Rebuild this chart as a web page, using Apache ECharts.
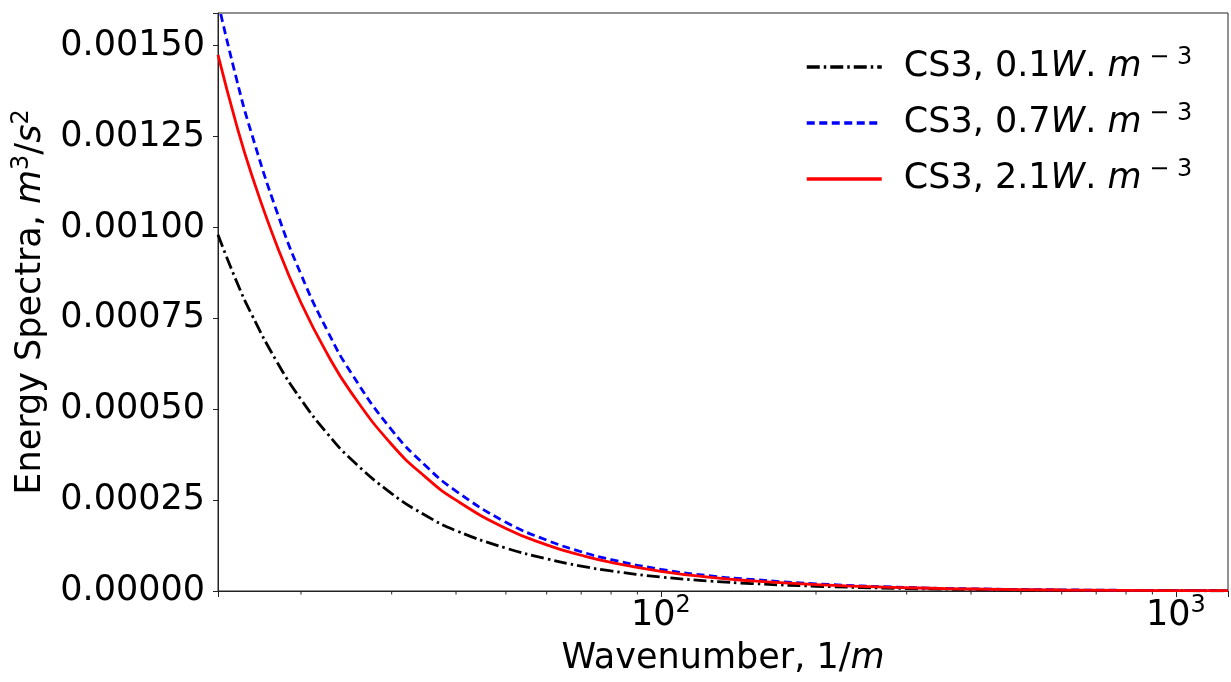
<!DOCTYPE html>
<html>
<head>
<meta charset="utf-8">
<script src="https://cdn.jsdelivr.net/npm/echarts@6/dist/echarts.min.js"></script>
<style>
  html, body { margin: 0; padding: 0; background: #fff; }
  #chart { width: 1231px; height: 682px; }
</style>
</head>
<body>
<div id="chart"></div>
<script>
// wavenumber samples (1/m)
var wavenumbers = [13.8, 15, 16, 18, 20, 22.5, 25, 30, 35, 40, 50, 60, 70, 80, 100, 125, 150, 200, 300, 400, 600, 1000, 1262];

// energy spectra, m^3/s^2
var spec01 = [0.00098, 0.000851, 0.000764, 0.000628, 0.000527, 0.000433, 0.000363, 0.000268, 0.000207, 0.000166, 0.000118, 0.0000885, 0.0000685, 0.0000552, 0.0000385, 0.0000272, 0.0000205, 0.0000131, 0.0000068, 0.0000042, 0.0000020, 0.0000009, 0.0000006];
var spec07 = [0.00162, 0.001407, 0.001263, 0.001039, 0.000871, 0.000716, 0.000601, 0.000443, 0.000343, 0.000275, 0.000189, 0.00014, 0.000108, 0.0000864, 0.0000597, 0.0000415, 0.0000318, 0.0000198, 0.0000098, 0.0000061, 0.0000031, 0.0000013, 0.0000009];
var spec21 = [0.001475, 0.001281, 0.00115, 0.000946, 0.000793, 0.000652, 0.000547, 0.000403, 0.000312, 0.00025, 0.000172, 0.000127, 0.0000983, 0.0000786, 0.0000543, 0.0000374, 0.0000278, 0.0000174, 0.0000089, 0.0000055, 0.0000028, 0.0000012, 0.0000008];

var seriesNames = ['0.1', '0.7', '2.1'];
var minorTicks = [20, 30, 40, 50, 60, 70, 80, 90, 200, 300, 400, 500, 600, 700, 800, 900];

var FONT = 'DejaVu Sans';
var FS = 35;

function pairs(xs, ys) {
    var out = [];
    for (var i = 0; i < xs.length; i++) {
        out.push([xs[i], ys[i]]);
    }
    return out;
}

var richText = {
    it: { fontFamily: FONT, fontStyle: 'italic', fontSize: FS, color: '#000', lineHeight: 42 },
    sup: { fontFamily: FONT, fontSize: 24, color: '#000', verticalAlign: 'top', lineHeight: 42 },
    n: { fontFamily: FONT, fontSize: FS, color: '#000', lineHeight: 42 }
};

// 10^n tick labels: tall line box so the exponent sits above the digits
var richTick = {
    n: { fontFamily: FONT, fontSize: FS, color: '#000', lineHeight: 44 },
    sup: { fontFamily: FONT, fontSize: 24, color: '#000', verticalAlign: 'top', lineHeight: 24 }
};

var myChart = echarts.init(document.getElementById('chart'));

var option = {
    animation: false,
    backgroundColor: '#fff',
    grid: {
        left: 218,
        right: 3,
        top: 13,
        bottom: 91,
        show: true,
        borderColor: '#222',
        borderWidth: 1,
        backgroundColor: 'transparent'
    },
    legend: {
        orient: 'vertical',
        left: 800,
        top: 41,
        itemWidth: 75,
        itemHeight: 14,
        itemGap: 17.5,
        itemStyle: { opacity: 0 },
        lineStyle: { width: 3.5 },
        data: seriesNames.map(function (s) { return 'CS3, ' + s; }),
        formatter: function (name) {
            return '{n|' + name + '}{it|W}{n|.}{it| m}{sup| − 3}';
        },
        textStyle: {
            fontFamily: FONT,
            fontSize: FS,
            color: '#000',
            padding: [0, 0, 0, 17],
            rich: richText
        }
    },
    xAxis: {
        type: 'log',
        logBase: 10,
        min: 13.8,
        max: 1262,
        name: '{n|Wavenumber, 1/}{it|m}',
        nameLocation: 'middle',
        nameGap: 47,
        nameTextStyle: { rich: richText },
        axisLine: { show: true, lineStyle: { color: '#222', width: 1 } },
        axisTick: { show: true, length: 6, inside: false, lineStyle: { color: '#222' } },
        splitLine: { show: false },
        axisLabel: {
            margin: 3,
            formatter: function (v) {
                var p = Math.log10(v);
                if (Math.abs(p - Math.round(p)) > 1e-6) {
                    return '';
                }
                return '{n|10}{sup|' + Math.round(p) + '}';
            },
            rich: richTick
        }
    },
    yAxis: {
        type: 'value',
        min: 0,
        max: 0.00159,
        interval: 0.00025,
        name: '{n|Energy Spectra, }{it|m}{sup|3}{n|/}{it|s}{sup|2}',
        nameLocation: 'middle',
        nameGap: 166,
        nameTextStyle: { rich: richText },
        axisLine: { show: true, lineStyle: { color: '#222', width: 1 } },
        axisTick: { show: true, length: 5, inside: false, lineStyle: { color: '#222' } },
        splitLine: { show: false },
        axisLabel: {
            margin: 13,
            fontFamily: FONT,
            fontSize: FS,
            color: '#000',
            formatter: function (v) {
                var q = v / 0.00025;
                if (Math.abs(q - Math.round(q)) > 1e-6) {
                    return '';
                }
                return v.toFixed(5);
            }
        }
    },
    series: [
        {
            name: 'CS3, ' + seriesNames[0],
            type: 'line',
            symbol: 'none',
            smooth: true,
            data: pairs(wavenumbers, spec01),
            lineStyle: { color: '#000', width: 2.8, type: [13, 4, 2.5, 4] },
            itemStyle: { color: '#000' }
        },
        {
            name: 'CS3, ' + seriesNames[1],
            type: 'line',
            symbol: 'none',
            smooth: true,
            data: pairs(wavenumbers, spec07),
            lineStyle: { color: '#0000ff', width: 2.8, type: [8, 4.5] },
            itemStyle: { color: '#0000ff' }
        },
        {
            name: 'CS3, ' + seriesNames[2],
            type: 'line',
            symbol: 'none',
            smooth: true,
            data: pairs(wavenumbers, spec21),
            lineStyle: { color: '#ff0000', width: 2.8, type: 'solid' },
            itemStyle: { color: '#ff0000' }
        },
        {
            // matplotlib style minor ticks on the log axis
            name: 'minor',
            type: 'custom',
            silent: true,
            data: minorTicks.map(function (v) { return [v, 0]; }),
            renderItem: function (params, api) {
                var p = api.coord([api.value(0), 0]);
                var y0 = params.coordSys.y + params.coordSys.height;
                return {
                    type: 'line',
                    shape: { x1: p[0], y1: y0, x2: p[0], y2: y0 + 3.5 },
                    style: { stroke: '#222', lineWidth: 1 }
                };
            }
        }
    ]
};

myChart.setOption(option);
</script>
</body>
</html>
